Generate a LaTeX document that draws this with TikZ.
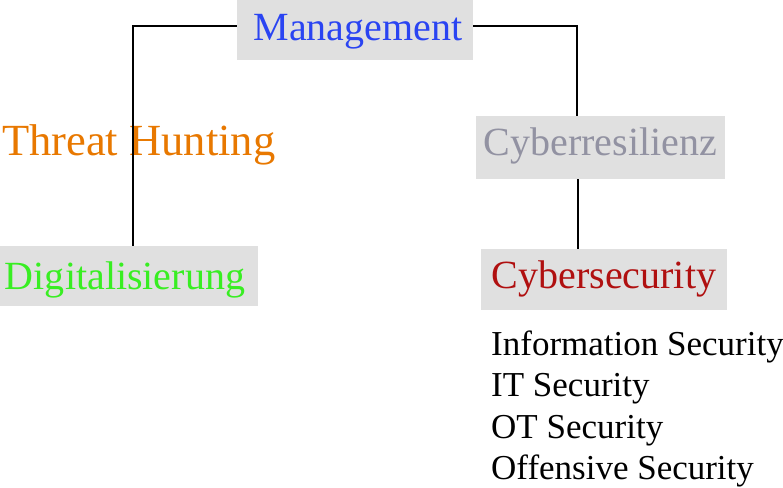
\documentclass[tikz,border=0pt]{standalone}
\usepackage{fontspec}
\setmainfont{Liberation Serif}
\definecolor{boxgray}{HTML}{E0E0E0}
\definecolor{mblue}{HTML}{2A44F2}
\definecolor{rgray}{HTML}{9292A2}
\definecolor{sred}{HTML}{B01010}
\definecolor{dgreen}{HTML}{38EE22}
\definecolor{torange}{HTML}{E87800}
\begin{document}
\begin{tikzpicture}[x=1pt,y=-1pt,
  box/.style={fill=boxgray,inner sep=0pt,font=\fontsize{40}{48}\selectfont},
  plain/.style={inner sep=0pt,anchor=base west},
  listtext/.style={plain,font=\fontsize{35}{41}\selectfont},
  link/.style={draw=black,line width=1.2pt}]
\useasboundingbox (0,0) rectangle (783,487);
\node[box,text=mblue,minimum width=236pt,minimum height=60pt,text height=28pt,text depth=6pt] (mgmt) at (355,30) {\hspace*{6pt}Management};
\node[box,text=rgray,minimum width=249pt,minimum height=63pt,text height=24pt,text depth=9pt] (cyres) at (600.5,147.5) {Cyberresilienz};
\node[box,text=sred,minimum width=246pt,minimum height=61pt,text height=26pt,text depth=9pt] (cysec) at (604,279.5) {Cybersecurity};
\node[box,text=dgreen,minimum width=258pt,minimum height=60pt,text height=30pt,text depth=4pt,inner xsep=5pt,text width=248pt,align=left] (digi) at (129,276) {Digitalisierung};
\node[plain,text=torange,font=\fontsize{44.5}{52}\selectfont] (threat) at (2,155) {Threat Hunting};
\node[listtext] (l1) at (491,355) {Information Security};
\node[listtext] (l2) at (491,396) {IT Security};
\node[listtext] (l3) at (491,438) {OT Security};
\node[listtext] (l4) at (491,479) {Offensive Security};
\draw[link] ([yshift=4pt]mgmt.west) -| ([xshift=4pt]digi.north);
\draw[link] ([yshift=4pt]mgmt.east) -| ([xshift=-23.5pt]cyres.north);
\coordinate (c1) at ([xshift=-22.5pt]cyres.south);
\draw[link] (c1) -- (c1 |- cysec.north);
\end{tikzpicture}
\end{document}
